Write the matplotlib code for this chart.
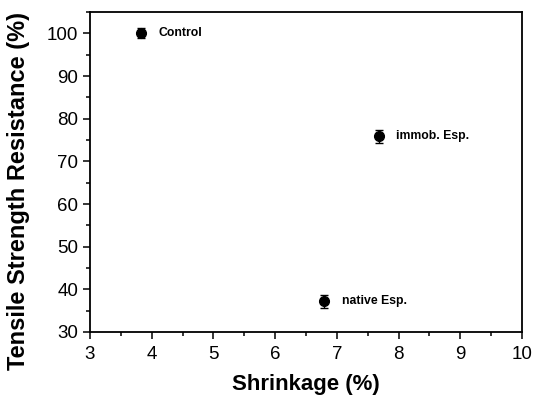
import matplotlib
matplotlib.use("Agg")
import matplotlib.pyplot as plt
from matplotlib.ticker import MultipleLocator

# 数据
labels = ["Control", "immob. Esp.", "native Esp."]
shrinkage = [3.83, 7.68, 6.8]
tensile = [100, 75.9, 37.2]
tensile_err = [1.2, 1.5, 1.5]

plt.rcParams['font.family'] = ['Liberation Sans', 'DejaVu Sans']

fig = plt.figure(figsize=(5.34, 3.95), dpi=100)
ax = fig.add_axes([0.1685, 0.1595, 0.809, 0.81])

ax.errorbar(shrinkage, tensile, yerr=tensile_err, fmt='o', color='black',
            markersize=7, capsize=3, elinewidth=1, capthick=1)

# 标注文字
for x, y, s in zip(shrinkage, tensile, labels):
    ax.text(x + 0.28, y, s, fontsize=8.8, fontweight='bold', va='center', ha='left')

ax.set_xlim(3, 10)
ax.set_ylim(30, 105)
ax.xaxis.set_major_locator(MultipleLocator(1))
ax.xaxis.set_minor_locator(MultipleLocator(0.5))
ax.yaxis.set_major_locator(MultipleLocator(10))
ax.yaxis.set_minor_locator(MultipleLocator(5))
ax.tick_params(which='both', direction='out', labelsize=13.5, width=1.1)
ax.tick_params(which='major', length=5)
ax.tick_params(which='minor', length=3)
ax.tick_params(axis='x', pad=5)
for sp in ax.spines.values():
    sp.set_linewidth(1.3)

ax.set_xlabel("Shrinkage (%)", fontsize=16, fontweight='bold', labelpad=8)
ax.set_ylabel("Tensile Strength Resistance (%)", fontsize=17, fontweight='bold')
ax.yaxis.set_label_coords(-0.138, 0.44)

plt.savefig("out.png", dpi=100)
